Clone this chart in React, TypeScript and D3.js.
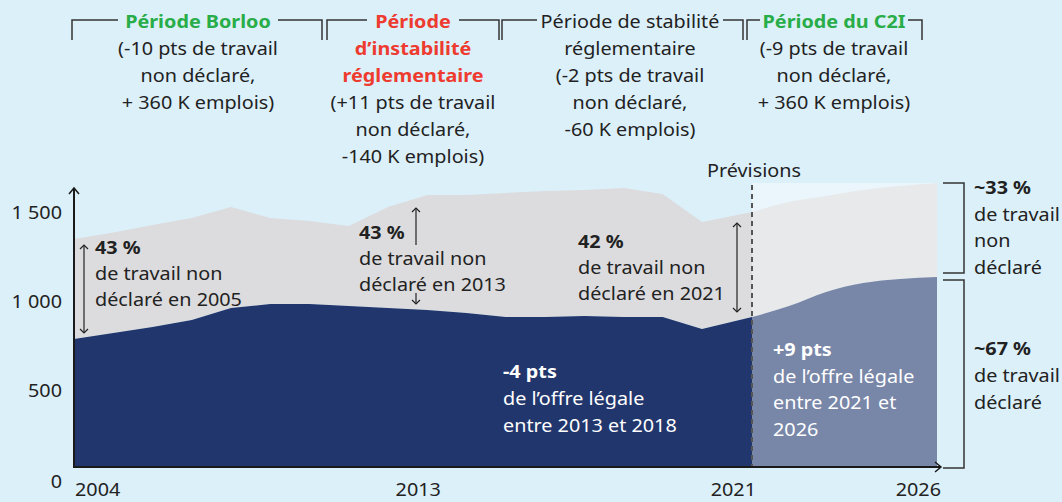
import React from "react";
import * as d3 from "d3";

// --- data (milliers d'emplois) ---
const histYears = [2004, 2005, 2006, 2007, 2008, 2009, 2010, 2011, 2012, 2013, 2014, 2015, 2016, 2017, 2018, 2019, 2020, 2021];
const histTotal = [1348, 1385, 1427, 1466, 1528, 1466, 1449, 1421, 1528, 1596, 1596, 1607, 1618, 1624, 1635, 1601, 1444, 1500];
const histDeclared = [787, 820, 854, 893, 961, 983, 983, 972, 961, 949, 933, 910, 910, 916, 910, 910, 843, 910];

const fcstYears = [2021, 2022, 2023, 2024, 2025, 2026];
const fcstTotal = [1500, 1556, 1590, 1624, 1646, 1663];
const fcstDeclared = [910, 972, 1051, 1101, 1124, 1135];

const yTicks = [0, 500, 1000, 1500];
const xTicks = [2004, 2013, 2021, 2026];

const periodTitles = [
  ["Période Borloo"],
  ["Période", "d’instabilité", "réglementaire"],
  ["Période de stabilité"],
  ["Période du C2I"],
];
const periodNotes = [
  ["(-10 pts de travail", "non déclaré,", "+ 360 K emplois)"],
  ["(+11 pts de travail", "non déclaré,", "-140 K emplois)"],
  ["réglementaire", "(-2 pts de travail", "non déclaré,", "-60 K emplois)"],
  ["(-9 pts de travail", "non déclaré,", "+ 360 K emplois)"],
];

// --- style ---
const BG = "#dcf0fa";
const NAVY = "#21366c";
const NAVY_F = "#7886a8";
const GREY = "#dcdcde";
const GREY_F = "#e8e9ea";
const LIGHT_F = "#eaf6fc";
const INK = "#222222";
const GREEN = "#28ad48";
const RED = "#ee3b30";
const FONT = "'Noto Sans', 'Open Sans', sans-serif";
const SX = 1.1; // texte légèrement élargi comme l'original
const FS = 18;

const periodColors = [GREEN, RED, INK, GREEN];
const periodBold = [true, true, false, true];
// bracket layout: left, right, centre, half gap around the title
const periodBox = [
  { l: 72, r: 322, cx: 198, hw: 80 },
  { l: 327, r: 499, cx: 413, hw: 46 },
  { l: 502, r: 743, cx: 630, hw: 93 },
  { l: 747, r: 922, cx: 834, hw: 74 },
];

const W = 1062;
const H = 502;
const baseY = 467;

const x = d3.scaleLinear().domain([2004, 2020, 2021, 2026]).range([74, 702, 752, 937]);
const y = d3.scaleLinear().domain([0, 1500]).range([479, 212]);

type Line = { t: string; bold?: boolean; color?: string };

function TextBlock({ x0, y0, lines, anchor = "start", lh = 26.7 }: { x0: number; y0: number; lines: Line[]; anchor?: string; lh?: number }) {
  return (
    <g transform={`translate(${x0},${y0}) scale(${SX},1)`}>
      <text fontFamily={FONT} fontSize={FS} textAnchor={anchor}>
        {lines.map((l, i) => (
          <tspan key={i} x={0} y={i * lh} fontWeight={l.bold ? 700 : 400} fill={l.color || INK}>
            {l.t}
          </tspan>
        ))}
      </text>
    </g>
  );
}

function VArrow({ ax, top, bottom, up = true, down = true }: { ax: number; top: number; bottom: number; up?: boolean; down?: boolean }) {
  const h = 4;
  return (
    <g stroke={INK} strokeWidth={1.2} fill="none">
      <line x1={ax} x2={ax} y1={top} y2={bottom} />
      {up && <path d={`M${ax - h},${top + h}L${ax},${top}L${ax + h},${top + h}`} />}
      {down && <path d={`M${ax - h},${bottom - h}L${ax},${bottom}L${ax + h},${bottom - h}`} />}
    </g>
  );
}

export default function App() {
  const hist = histYears.map((yr, i) => ({ yr, tot: histTotal[i], dec: histDeclared[i] }));
  const fcst = fcstYears.map((yr, i) => ({ yr, tot: fcstTotal[i], dec: fcstDeclared[i] }));

  const greyArea = d3.area<any>().x(d => x(d.yr)).y0(d => y(d.dec)).y1(d => y(d.tot));
  const blueArea = d3.area<any>().x(d => x(d.yr)).y0(y(0)).y1(d => y(d.dec));
  const greyF = d3.area<any>().x(d => x(d.yr)).y0(d => y(d.dec)).y1(d => y(d.tot)).curve(d3.curveMonotoneX);
  const blueF = d3.area<any>().x(d => x(d.yr)).y0(y(0)).y1(d => y(d.dec)).curve(d3.curveMonotoneX);

  const fTop = y(d3.max(fcstTotal) as number);
  const fx0 = x(fcstYears[0]);
  const fx1 = x(fcstYears[fcstYears.length - 1]);
  const fmt = (v: number) => d3.format(",")(v).replace(",", "\u00a0");

  return (
    <svg width={W} height={H} style={{ position: "absolute", left: 0, top: 0, background: BG }}>
      <defs>
        <clipPath id="plot">
          <rect x={0} y={0} width={W} height={baseY} />
        </clipPath>
      </defs>
      <rect width={W} height={H} fill={BG} />

      {/* period headers */}
      {periodBox.map((b, i) => (
        <g key={i}>
          <g stroke="#333" strokeWidth={1.5} fill="none">
            <path d={`M${b.l},40V20H${b.cx - b.hw}`} />
            <path d={`M${b.cx + b.hw},20H${b.r}V40`} />
          </g>
          <TextBlock
            x0={b.cx}
            y0={28}
            anchor="middle"
            lh={27}
            lines={[
              ...periodTitles[i].map(t => ({ t, bold: periodBold[i], color: periodColors[i] })),
              ...periodNotes[i].map(t => ({ t })),
            ]}
          />
        </g>
      ))}

      {/* areas */}
      <g clipPath="url(#plot)">
        <rect x={fx0} y={fTop} width={fx1 - fx0} height={baseY - fTop} fill={LIGHT_F} />
        <path d={greyArea(hist) || ""} fill={GREY} />
        <path d={blueArea(hist) || ""} fill={NAVY} />
        <path d={greyF(fcst) || ""} fill={GREY_F} />
        <path d={blueF(fcst) || ""} fill={NAVY_F} />
      </g>

      {/* forecast marker */}
      <line x1={fx0} x2={fx0} y1={fTop + 2} y2={baseY} stroke="#555" strokeWidth={2} strokeDasharray="5 4" />
      <TextBlock x0={fx0 + 2} y0={177} anchor="middle" lines={[{ t: "Prévisions" }]} />

      {/* axes */}
      <g stroke="#1a1a1a" strokeWidth={2} fill="none">
        <line x1={74} x2={74} y1={baseY + 1} y2={189} />
        <path d="M69,194L74,188L79,194" strokeWidth={1.5} />
        <line x1={73} x2={940} y1={baseY} y2={baseY} />
        <path d="M935,462L941,467L935,472" strokeWidth={1.5} />
      </g>
      {yTicks.map(v => (
        <TextBlock key={v} x0={62} y0={y(v) + (v === 0 ? 9 : 6.5)} anchor="end" lines={[{ t: fmt(v) }]} />
      ))}
      {xTicks.map((v, i) => (
        <TextBlock
          key={v}
          x0={i === 0 ? x(v) + 1 : i === 1 ? x(v) - 9 : x(v) + 4}
          y0={496}
          anchor={i === 0 ? "start" : i === 1 ? "middle" : "end"}
          lines={[{ t: String(v) }]}
        />
      ))}

      {/* annotations */}
      <VArrow ax={84} top={245} bottom={333} />
      <TextBlock x0={95} y0={254} lh={26} lines={[{ t: "43 %", bold: true }, { t: "de travail non" }, { t: "déclaré en 2005" }]} />

      <VArrow ax={416} top={208} bottom={245} down={false} />
      <VArrow ax={416} top={293} bottom={304} up={false} />
      <TextBlock x0={359} y0={239} lh={26} lines={[{ t: "43 %", bold: true }, { t: "de travail non" }, { t: "déclaré en 2013" }]} />

      <VArrow ax={737} top={223} bottom={312} />
      <TextBlock x0={578} y0={248} lh={26} lines={[{ t: "42 %", bold: true }, { t: "de travail non" }, { t: "déclaré en 2021" }]} />

      <TextBlock
        x0={503}
        y0={378}
        lh={27}
        lines={[{ t: "-4 pts", bold: true, color: "#fff" }, { t: "de l’offre légale", color: "#fff" }, { t: "entre 2013 et 2018", color: "#fff" }]}
      />
      <TextBlock
        x0={773}
        y0={356}
        lh={26.7}
        lines={[
          { t: "+9 pts", bold: true, color: "#fff" },
          { t: "de l’offre légale", color: "#fff" },
          { t: "entre 2021 et", color: "#fff" },
          { t: "2026", color: "#fff" },
        ]}
      />

      {/* right brackets */}
      <g stroke="#333" strokeWidth={1.5} fill="none">
        <path d={`M943,${fTop}H964V273H943`} />
        <path d={`M943,280H964V${baseY + 1}H943`} />
      </g>
      <TextBlock x0={974} y0={194} lh={26.7} lines={[{ t: "~33 %", bold: true }, { t: "de travail" }, { t: "non" }, { t: "déclaré" }]} />
      <TextBlock x0={974} y0={355} lh={27} lines={[{ t: "~67 %", bold: true }, { t: "de travail" }, { t: "déclaré" }]} />
    </svg>
  );
}
